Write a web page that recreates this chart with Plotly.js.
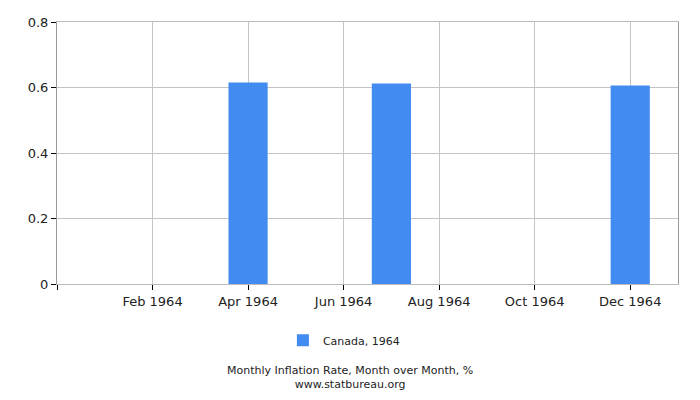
<!DOCTYPE html>
<html>
<head>
<meta charset="utf-8">
<script src="https://cdn.plot.ly/plotly-3.0.1.min.js"></script>
<style>
  body { margin: 0; background: #fff; }
  #chart { width: 700px; height: 400px; }
</style>
</head>
<body>
<div id="chart"></div>
<script>
// months of 1964, month-over-month inflation in %
var months = ["Jan 1964", "Feb 1964", "Mar 1964", "Apr 1964", "May 1964", "Jun 1964",
              "Jul 1964", "Aug 1964", "Sep 1964", "Oct 1964", "Nov 1964", "Dec 1964"];
var values = [0, 0, 0, 0.615, 0, 0, 0.612, 0, 0, 0, 0, 0.606];
var tickLabels = ["", "Feb 1964", "Apr 1964", "Jun 1964", "Aug 1964", "Oct 1964", "Dec 1964"];
var tickPos = [-1, 1, 3, 5, 7, 9, 11];
var seriesName = "Canada, 1964";

var idx = months.map(function (m, i) { return i; });

var trace = {
  x: idx,
  y: values,
  type: 'bar',
  name: seriesName,
  width: 0.82,
  marker: { color: '#428bf0' },
  text: months,
  hoverinfo: 'text+y',
  textposition: 'none'
};

var layout = {
  width: 700,
  height: 400,
  margin: { l: 57, r: 22, t: 22, b: 116 },
  paper_bgcolor: '#fff',
  plot_bgcolor: '#fff',
  font: { family: 'DejaVu Sans, sans-serif', size: 13, color: '#222' },
  xaxis: {
    type: 'linear',
    range: [-1, 12],
    tickvals: tickPos,
    ticktext: tickLabels,
    ticks: 'outside',
    ticklen: 5,
    tickcolor: '#000',
    showgrid: true,
    gridcolor: '#c4c4c4',
    showline: true,
    linecolor: '#bbb',
    mirror: true,
    zeroline: false,
    fixedrange: true
  },
  yaxis: {
    range: [0, 0.8],
    tickvals: [0, 0.2, 0.4, 0.6, 0.8],
    ticktext: ['0', '0.2', '0.4', '0.6', '0.8'],
    ticks: 'outside',
    ticklen: 5,
    tickcolor: '#000',
    showgrid: true,
    gridcolor: '#c4c4c4',
    showline: true,
    linecolor: '#999',
    mirror: true,
    zeroline: false,
    fixedrange: true
  },
  showlegend: true,
  legend: {
    orientation: 'h',
    x: 0.462,
    xanchor: 'center',
    y: -0.215,
    yanchor: 'middle',
    font: { size: 11, color: '#222' }
  },
  annotations: [
    {
      text: 'Monthly Inflation Rate, Month over Month, %<br>www.statbureau.org',
      xref: 'paper', yref: 'paper',
      x: 0.472, y: -0.355,
      xanchor: 'center', yanchor: 'middle',
      showarrow: false,
      font: { size: 11, color: '#222' }
    }
  ]
};

Plotly.newPlot('chart', [trace], layout, { displayModeBar: false, staticPlot: true });
</script>
</body>
</html>
